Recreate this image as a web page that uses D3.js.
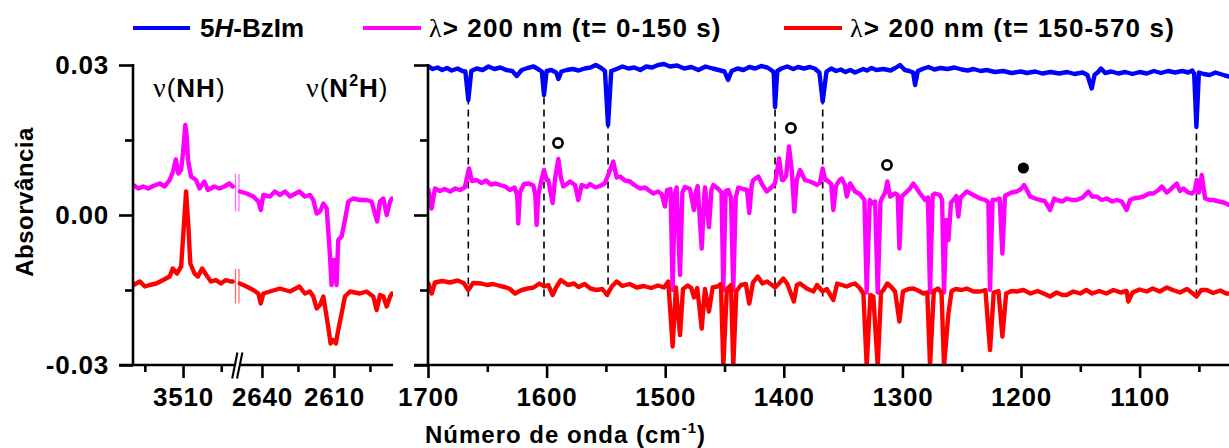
<!DOCTYPE html>
<html><head><meta charset="utf-8">
<script src="https://cdn.jsdelivr.net/npm/d3@7"></script>
<style>
body{margin:0;background:#fff;}
svg text{font-family:"Liberation Sans",Arial,sans-serif;font-weight:bold;fill:#000;}
</style></head><body>
<svg id="c" width="1229" height="448"></svg>
<script>
// ---------------- DATA ----------------
const seriesNames = ["5H-BzIm", "λ> 200 nm (t= 0-150 s)", "λ> 200 nm (t= 150-570 s)"];

// ν(NH) region (left part of left panel) [wavenumber, absorbance]
const nhMagenta = [[3523.0,0.0060],[3521.7,0.0053],[3520.4,0.0057],[3519.1,0.0053],[3517.8,0.0058],[3516.1,0.0063],[3514.8,0.0057],[3513.5,0.0070],[3512.6,0.0087],[3511.9,0.0111],[3511.2,0.0083],[3510.5,0.0090],[3510.0,0.0125],[3509.4,0.0180],[3509.0,0.0155],[3508.7,0.0110],[3507.9,0.0077],[3506.6,0.0070],[3505.7,0.0053],[3504.4,0.0067],[3503.5,0.0050],[3501.8,0.0057],[3500.5,0.0053],[3499.2,0.0057],[3497.9,0.0063],[3497.0,0.0057]];
const nhRed = [[3523.0,-0.0140],[3521.3,-0.0133],[3520.0,-0.0143],[3518.7,-0.0140],[3517.0,-0.0137],[3515.2,-0.0130],[3513.5,-0.0123],[3512.7,-0.0107],[3511.6,-0.0117],[3510.5,-0.0103],[3509.8,-0.0023],[3509.2,0.0047],[3508.6,-0.0023],[3508.1,-0.0097],[3507.0,-0.0117],[3506.1,-0.0123],[3505.0,-0.0107],[3503.9,-0.0120],[3502.7,-0.0133],[3501.4,-0.0130],[3500.1,-0.0137],[3498.8,-0.0130],[3497.5,-0.0133],[3497.0,-0.0133]];

// ν(N2H) region (right part of left panel)
const n2hMagenta = [[2649.2,0.0047],[2646.4,0.0043],[2643.6,0.0037],[2641.5,0.0027],[2640.5,0.0010],[2639.4,0.0040],[2636.7,0.0037],[2634.6,0.0047],[2632.5,0.0040],[2630.4,0.0047],[2628.3,0.0037],[2624.4,0.0047],[2622.1,0.0037],[2620.0,0.0040],[2618.6,0.0030],[2617.2,0.0003],[2615.8,0.0007],[2614.4,0.0023],[2613.0,0.0013],[2611.7,-0.0077],[2611.0,-0.0140],[2610.0,-0.0090],[2608.9,-0.0140],[2608.2,-0.0050],[2606.8,-0.0043],[2605.4,-0.0010],[2604.0,0.0027],[2602.0,0.0033],[2599.2,0.0030],[2596.4,0.0030],[2594.3,0.0027],[2592.9,0.0003],[2592.0,-0.0013],[2590.8,0.0027],[2589.4,0.0033],[2588.0,0.0000],[2586.6,0.0027],[2585.8,0.0033]];
const n2hRed = [[2649.2,-0.0137],[2646.4,-0.0143],[2643.6,-0.0150],[2641.5,-0.0157],[2640.5,-0.0177],[2639.4,-0.0157],[2636.7,-0.0153],[2634.6,-0.0150],[2632.5,-0.0147],[2630.4,-0.0150],[2628.3,-0.0153],[2624.4,-0.0143],[2622.1,-0.0157],[2620.0,-0.0153],[2618.6,-0.0163],[2617.2,-0.0187],[2615.8,-0.0180],[2614.4,-0.0163],[2612.4,-0.0223],[2611.4,-0.0257],[2610.3,-0.0250],[2609.2,-0.0257],[2608.2,-0.0230],[2606.8,-0.0197],[2605.4,-0.0163],[2603.3,-0.0153],[2599.2,-0.0157],[2596.4,-0.0153],[2593.6,-0.0163],[2592.2,-0.0190],[2590.8,-0.0160],[2589.4,-0.0163],[2588.0,-0.0183],[2586.6,-0.0163],[2585.8,-0.0157]];

// 1700-1000 cm-1 region (right panel)
const fpBlue = [[1699.7,0.0297],[1696,0.0292],[1692,0.0295],[1688,0.0290],[1684,0.0294],[1680,0.0289],[1675,0.0293],[1671,0.0288],[1668.5,0.0287],[1666,0.0230],[1663.5,0.0288],[1659,0.0293],[1654,0.0290],[1649,0.0297],[1644,0.0292],[1639,0.0295],[1634,0.0290],[1629,0.0288],[1625.2,0.0278],[1621,0.0290],[1616,0.0294],[1611,0.0297],[1606,0.0290],[1604,0.0287],[1602.2,0.0240],[1600,0.0288],[1596,0.0290],[1592,0.0285],[1590,0.0272],[1587.5,0.0287],[1583,0.0290],[1578,0.0292],[1573,0.0289],[1568,0.0293],[1563,0.0295],[1558.5,0.0300],[1554,0.0294],[1550.8,0.0288],[1548.2,0.0180],[1545.5,0.0288],[1541,0.0292],[1536,0.0297],[1531,0.0293],[1526,0.0295],[1521,0.0290],[1516,0.0297],[1511,0.0295],[1506,0.0300],[1501,0.0302],[1496,0.0297],[1490,0.0299],[1484,0.0293],[1478,0.0296],[1472,0.0290],[1466,0.0297],[1460,0.0293],[1455,0.0290],[1450,0.0287],[1447,0.0270],[1444,0.0288],[1439,0.0293],[1434,0.0290],[1429,0.0296],[1424,0.0293],[1419,0.0298],[1414,0.0295],[1410,0.0289],[1408.5,0.0285],[1407.4,0.0216],[1405.5,0.0288],[1402,0.0293],[1397,0.0297],[1392,0.0292],[1388,0.0296],[1383,0.0293],[1378,0.0296],[1374,0.0293],[1370,0.0285],[1367.2,0.0227],[1364,0.0287],[1360,0.0293],[1356,0.0288],[1352,0.0291],[1348,0.0286],[1344,0.0290],[1340,0.0285],[1337,0.0288],[1333,0.0292],[1330,0.0289],[1326,0.0294],[1322,0.0290],[1316,0.0292],[1310,0.0289],[1306,0.0294],[1302,0.0300],[1298,0.0290],[1294,0.0288],[1291,0.0285],[1289.3,0.0260],[1287,0.0288],[1282,0.0293],[1278,0.0296],[1273,0.0291],[1268,0.0294],[1262,0.0292],[1256,0.0295],[1250,0.0291],[1245,0.0289],[1240,0.0292],[1234,0.0288],[1229,0.0290],[1222,0.0286],[1215,0.0288],[1208,0.0284],[1200,0.0287],[1195,0.0284],[1188,0.0287],[1182,0.0283],[1175,0.0286],[1168,0.0283],[1161,0.0286],[1155,0.0282],[1148,0.0285],[1144,0.0280],[1140.4,0.0253],[1138,0.0280],[1135,0.0286],[1132.5,0.0293],[1129,0.0284],[1124,0.0287],[1118,0.0283],[1112,0.0286],[1106,0.0282],[1100,0.0286],[1094,0.0283],[1088,0.0288],[1082,0.0284],[1076,0.0288],[1070,0.0285],[1064,0.0288],[1059,0.0285],[1055.5,0.0289],[1054,0.0283],[1052.1,0.0176],[1050,0.0285],[1046,0.0282],[1041,0.0280],[1036,0.0285],[1032,0.0282],[1028,0.0279],[1024.6,0.0277]];

const fpMagenta = [[1699.7,0.0050],[1696.9,0.0013],[1694.1,0.0053],[1690,0.0048],[1686,0.0052],[1681.4,0.0047],[1677,0.0053],[1673,0.0050],[1669,0.0055],[1665.4,0.0093],[1663,0.0068],[1659,0.0070],[1655,0.0064],[1651,0.0069],[1647,0.0061],[1643,0.0063],[1639.3,0.0060],[1635,0.0057],[1630.9,0.0050],[1627,0.0055],[1624.8,0.0040],[1623.9,-0.0017],[1622.5,0.0045],[1619,0.0062],[1615,0.0063],[1611.2,0.0059],[1609.5,0.0040],[1608.4,-0.0020],[1607,0.0040],[1604.5,0.0068],[1602.2,0.0090],[1600,0.0070],[1598.6,0.0070],[1594.9,0.0024],[1592.9,0.0072],[1590.1,0.0112],[1588,0.0075],[1585.9,0.0057],[1583,0.0062],[1580.3,0.0067],[1576,0.0060],[1573.3,0.0030],[1570.4,0.0060],[1566,0.0056],[1563.4,0.0062],[1559,0.0055],[1555,0.0058],[1551,0.0063],[1547.1,0.0086],[1543.8,0.0107],[1540.9,0.0075],[1538.1,0.0077],[1534,0.0069],[1529.7,0.0067],[1526,0.0060],[1521.3,0.0053],[1517,0.0055],[1513,0.0048],[1510,0.0043],[1506,0.0047],[1503,0.0042],[1500.2,0.0017],[1498.5,0.0050],[1495.5,0.0052],[1493.7,-0.0150],[1492,0.0040],[1490.4,0.0055],[1487.5,-0.0120],[1485.5,0.0045],[1483.3,0.0056],[1479.1,0.0052],[1475.7,0.0010],[1474,0.0048],[1472.6,0.0058],[1469.2,-0.0067],[1467,0.0042],[1466.4,0.0055],[1463.1,-0.0024],[1461,0.0050],[1459.4,0.0060],[1455.2,0.0052],[1452.5,0.0045],[1451,-0.0150],[1449,0.0048],[1446.8,0.0050],[1444.5,0.0035],[1442.6,-0.0150],[1440.5,0.0035],[1438.4,0.0055],[1434.2,0.0052],[1431,0.0050],[1429.1,0.0004],[1427,0.0060],[1425.7,0.0070],[1421.5,0.0077],[1418,0.0060],[1414.4,0.0047],[1410.5,0.0055],[1407.4,0.0063],[1404,0.0113],[1401.5,0.0070],[1400.4,0.0070],[1398,0.0078],[1395.6,0.0137],[1393.3,0.0090],[1391.1,0.0007],[1389.1,0.0070],[1386.3,0.0090],[1382.1,0.0070],[1378,0.0067],[1374,0.0063],[1372.2,0.0060],[1369.5,0.0064],[1367.2,0.0093],[1365,0.0070],[1363.8,0.0070],[1360,0.0062],[1358.2,0.0010],[1356,0.0058],[1353,0.0070],[1351.2,0.0073],[1348.5,0.0060],[1346.9,0.0037],[1344.1,0.0063],[1339.9,0.0047],[1336,0.0042],[1334.3,0.0037],[1332,0.0030],[1330.1,-0.0155],[1327.5,0.0030],[1325.9,0.0023],[1323,0.0027],[1320.8,-0.0155],[1318.5,0.0025],[1317.4,0.0033],[1314.5,0.0045],[1312.7,0.0067],[1310.4,0.0037],[1306.2,0.0043],[1304,0.0040],[1302.5,-0.0067],[1300.6,0.0037],[1297,0.0045],[1293.6,0.0053],[1290.7,0.0063],[1287,0.0050],[1285.1,0.0043],[1280.9,0.0030],[1278.5,0.0035],[1276.7,-0.0155],[1274.5,0.0040],[1272.5,0.0043],[1268.3,0.0040],[1266.5,0.0030],[1264.9,-0.0155],[1263,-0.0010],[1261.2,-0.0050],[1259,0.0025],[1257,0.0030],[1254.5,0.0038],[1252.8,-0.0003],[1251,0.0035],[1250,0.0037],[1245.8,0.0047],[1240.2,0.0040],[1234.5,0.0033],[1230,0.0030],[1227.5,0.0025],[1226.1,-0.0150],[1224,0.0030],[1221.9,0.0030],[1218,0.0033],[1215.7,-0.0077],[1213.5,0.0038],[1212.1,0.0040],[1208,0.0045],[1203.6,0.0047],[1200,0.0052],[1197.4,0.0060],[1194.5,0.0048],[1192.4,0.0037],[1188,0.0033],[1184,0.0030],[1180,0.0028],[1175.5,0.0010],[1172,0.0033],[1169.9,0.0030],[1165,0.0027],[1161.5,0.0033],[1157,0.0030],[1153,0.0030],[1148,0.0035],[1143.2,0.0047],[1140,0.0037],[1136.2,0.0037],[1132,0.0030],[1127.7,0.0033],[1123,0.0027],[1119.3,0.0030],[1115,0.0027],[1111,0.0010],[1108,0.0030],[1105.2,0.0033],[1100,0.0035],[1096.8,0.0037],[1092,0.0043],[1088.4,0.0043],[1084,0.0050],[1081.3,0.0057],[1077,0.0045],[1074.3,0.0050],[1071,0.0058],[1068.7,0.0063],[1066,0.0048],[1063.1,0.0053],[1059,0.0045],[1056,0.0043],[1053.5,0.0048],[1051.8,0.0070],[1050,0.0045],[1047.6,0.0080],[1044.8,0.0033],[1041,0.0030],[1037.8,0.0030],[1033,0.0027],[1029,0.0025],[1024.6,0.0020]];

const fpRed = [[1699.7,-0.0137],[1696.9,-0.0157],[1694.1,-0.0135],[1688,-0.0132],[1681.4,-0.0135],[1675,-0.0131],[1670,-0.0136],[1666,-0.0150],[1662,-0.0136],[1655,-0.0137],[1650.5,-0.0140],[1645,-0.0138],[1639,-0.0142],[1634,-0.0145],[1630.9,-0.0148],[1626.6,-0.0157],[1621,-0.0150],[1616,-0.0147],[1611,-0.0145],[1606,-0.0137],[1602,-0.0143],[1598.6,-0.0140],[1594.9,-0.0160],[1592,-0.0145],[1588,-0.0130],[1582,-0.0140],[1577,-0.0137],[1573,-0.0144],[1568,-0.0138],[1563,-0.0147],[1558,-0.0150],[1553,-0.0148],[1549,-0.0160],[1545,-0.0143],[1541,-0.0133],[1536,-0.0142],[1530,-0.0138],[1524,-0.0145],[1518,-0.0142],[1512,-0.0146],[1506,-0.0141],[1501,-0.0145],[1497.4,-0.0133],[1493.7,-0.0263],[1491,-0.0145],[1487.5,-0.0240],[1485,-0.0148],[1481,-0.0141],[1478,-0.0146],[1475.7,-0.0165],[1473,-0.0146],[1469.2,-0.0227],[1466.5,-0.0148],[1463.1,-0.0193],[1460,-0.0145],[1456,-0.0143],[1453,-0.0138],[1451,-0.0302],[1448,-0.0148],[1444.5,-0.0140],[1442.6,-0.0302],[1440,-0.0152],[1436,-0.0140],[1432,-0.0138],[1429.1,-0.0177],[1426,-0.0135],[1422,-0.0123],[1418,-0.0137],[1414,-0.0133],[1410,-0.0140],[1407.4,-0.0145],[1404,-0.0137],[1400.4,-0.0127],[1397,-0.0138],[1391.5,-0.0173],[1389,-0.0140],[1386.3,-0.0137],[1380.7,-0.0147],[1375,-0.0153],[1372,-0.0140],[1367.2,-0.0153],[1363.8,-0.0148],[1358.2,-0.0170],[1355,-0.0137],[1351,-0.0140],[1346.9,-0.0143],[1343,-0.0139],[1339.9,-0.0137],[1336,-0.0146],[1332.9,-0.0157],[1330.1,-0.0302],[1327,-0.0160],[1324.5,-0.0163],[1320.8,-0.0302],[1318,-0.0155],[1316,-0.0150],[1312.7,-0.0137],[1309,-0.0145],[1306.2,-0.0153],[1302.5,-0.0213],[1299.5,-0.0153],[1295,-0.0148],[1290.7,-0.0147],[1286,-0.0152],[1282.3,-0.0157],[1279,-0.0155],[1276.7,-0.0302],[1273.5,-0.0152],[1270,-0.0147],[1267,-0.0155],[1264.9,-0.0302],[1261.2,-0.0197],[1258.5,-0.0152],[1255,-0.0148],[1250,-0.0150],[1245.8,-0.0147],[1240,-0.0153],[1234.5,-0.0153],[1230,-0.0150],[1226.1,-0.0270],[1223,-0.0155],[1219,-0.0152],[1215.7,-0.0243],[1212.5,-0.0157],[1208,-0.0152],[1203.6,-0.0153],[1198,-0.0150],[1192,-0.0157],[1186,-0.0152],[1180,-0.0158],[1175.5,-0.0163],[1170,-0.0155],[1165,-0.0160],[1161.5,-0.0160],[1156,-0.0153],[1150,-0.0157],[1145,-0.0150],[1140,-0.0157],[1134,-0.0152],[1128,-0.0157],[1122,-0.0150],[1116,-0.0155],[1111,-0.0152],[1109.5,-0.0173],[1106,-0.0155],[1100,-0.0149],[1094,-0.0153],[1089,-0.0147],[1083,-0.0153],[1077,-0.0145],[1072,-0.0150],[1066,-0.0155],[1060,-0.0148],[1055,-0.0157],[1052,-0.0163],[1048,-0.0150],[1043.4,-0.0150],[1038,-0.0156],[1032,-0.0151],[1027,-0.0157],[1024.6,-0.0157]];

// reference band positions (dashed lines) and markers
const bandLines = [1666, 1602.2, 1548.2, 1407.4, 1367.2, 1052.1];
const bandLineRange = [0.0235, -0.0164];
const openMarks = [[1590.4, 0.0144], [1394, 0.0174], [1313, 0.0100]];
const filledMarks = [[1198, 0.0094]];

// ticks
const yTicks = [-0.03, 0, 0.03];
const yTickLabels = ["-0.03", "0.00", "0.03"];
const yMinor = [-0.015, 0.015];
const nhMajor = [3510], nhMinor = [3520, 3500];
const n2hMajor = [2640, 2610], n2hMinor = [2625, 2595];
const fpMajor = [1700, 1600, 1500, 1400, 1300, 1200, 1100], fpMinor = [1650, 1550, 1450, 1350, 1250, 1150, 1050];

// ---------------- DRAWING ----------------
const svg = d3.select("#c");
const colors = ["#0000ff", "#ff00ff", "#ff0000"];
const y = d3.scaleLinear().domain([-0.03, 0.03]).range([365, 65]);
const xNH = d3.scaleLinear().domain([3523.1, 3496.4]).range([133, 235]);
const xN2H = d3.scaleLinear().domain([2650.4, 2585.8]).range([237, 392]);
const xFP = d3.scaleLinear().domain([1700, 1000]).range([428, 1258.2]);

const defs = svg.append("defs");
function clip(id, x0, x1) {
  defs.append("clipPath").attr("id", id).append("rect")
    .attr("x", x0).attr("y", 0).attr("width", x1 - x0).attr("height", 366);
}
clip("cNH", 133, 235); clip("cN2H", 237, 393); clip("cFP", 429, 1229);

// dashed band lines
svg.append("g").selectAll("line").data(bandLines).join("line")
  .attr("x1", d => xFP(d)).attr("x2", d => xFP(d))
  .attr("y1", y(bandLineRange[0])).attr("y2", y(bandLineRange[1]))
  .attr("stroke", "#000").attr("stroke-width", 1.6).attr("stroke-dasharray", "7,5");

function trace(data, xs, color, clipId) {
  svg.append("path").datum(data)
    .attr("clip-path", `url(#${clipId})`)
    .attr("d", d3.line().x(d => xs(d[0])).y(d => y(d[1])))
    .attr("fill", "none").attr("stroke", color).attr("stroke-width", 4.4)
    .attr("stroke-linejoin", "round").attr("stroke-linecap", "round");
}
trace(fpBlue, xFP, colors[0], "cFP");
trace(fpMagenta, xFP, colors[1], "cFP");
trace(fpRed, xFP, colors[2], "cFP");
trace(nhMagenta, xNH, colors[1], "cNH");
trace(nhRed, xNH, colors[2], "cNH");
trace(n2hMagenta, xN2H, colors[1], "cN2H");
trace(n2hRed, xN2H, colors[2], "cN2H");

// break stubs on data
[[nhMagenta, n2hMagenta, colors[1]], [nhRed, n2hRed, colors[2]]].forEach(([a, b, c]) => {
  const v1 = a[a.length - 1][1], v2 = b[0][1];
  [235.5, 239].forEach(xp => {
    svg.append("line").attr("x1", xp).attr("x2", xp)
      .attr("y1", y(Math.max(v1, v2) + 0.0025)).attr("y2", y(Math.min(v1, v2) - 0.004))
      .attr("stroke", c).attr("stroke-width", 1.2).attr("opacity", 0.6);
  });
});

// markers
svg.append("g").selectAll("circle").data(openMarks).join("circle")
  .attr("cx", d => xFP(d[0])).attr("cy", d => y(d[1])).attr("r", 4.6)
  .attr("fill", "#fff").attr("stroke", "#000").attr("stroke-width", 2.7);
svg.append("g").selectAll("circle").data(filledMarks).join("circle")
  .attr("cx", d => xFP(d[0])).attr("cy", d => y(d[1])).attr("r", 5.6)
  .attr("fill", "#000");

// axes
const axW = 2.6;
function styleAxis(g) {
  g.select(".domain").remove();
  g.selectAll(".tick line").attr("stroke", "#000").attr("stroke-width", axW);
  g.selectAll(".tick text").style("font-size", "26px").style("font-weight", "bold")
    .style("letter-spacing", "0.8px").style("font-family", '"Liberation Sans", Arial, sans-serif');
}
const fmtY = d => yTickLabels[yTicks.indexOf(d)];
// left y axis
svg.append("g").attr("transform", "translate(133,0)")
  .call(d3.axisLeft(y).tickValues(yTicks).tickSize(14).tickPadding(10).tickFormat(fmtY)).call(styleAxis);
svg.append("g").attr("transform", "translate(133,0)")
  .call(d3.axisLeft(y).tickValues(yMinor).tickSize(8).tickFormat("")).call(styleAxis);
// right y axis
svg.append("g").attr("transform", "translate(428,0)")
  .call(d3.axisLeft(y).tickValues(yTicks).tickSize(14).tickFormat("")).call(styleAxis);
svg.append("g").attr("transform", "translate(428,0)")
  .call(d3.axisLeft(y).tickValues(yMinor).tickSize(8).tickFormat("")).call(styleAxis);
// x axes
function xAxis(scale, major, minor) {
  svg.append("g").attr("transform", "translate(0,365)")
    .call(d3.axisBottom(scale).tickValues(major).tickSize(13).tickPadding(10).tickFormat(d3.format("d"))).call(styleAxis);
  svg.append("g").attr("transform", "translate(0,365)")
    .call(d3.axisBottom(scale).tickValues(minor).tickSize(7).tickFormat("")).call(styleAxis);
}
xAxis(xNH, nhMajor, nhMinor);
xAxis(xN2H, n2hMajor, n2hMinor);
xAxis(xFP, fpMajor, fpMinor);

// axis lines
const al = svg.append("g").attr("stroke", "#000").attr("stroke-width", axW).attr("fill", "none");
al.append("line").attr("x1", 133).attr("x2", 133).attr("y1", 64).attr("y2", 366);
al.append("line").attr("x1", 428).attr("x2", 428).attr("y1", 64).attr("y2", 366);
al.append("line").attr("x1", 119).attr("x2", 393).attr("y1", 365).attr("y2", 365);
al.append("line").attr("x1", 414).attr("x2", 1229).attr("y1", 365).attr("y2", 365);
// axis break "//"
svg.append("polygon").attr("points", "233.5,378 237.8,378 243,352.5 238.7,352.5").attr("fill", "#fff");
const br = svg.append("g").attr("stroke", "#000").attr("stroke-width", 2.1);
br.append("line").attr("x1", 232.2).attr("y1", 378.5).attr("x2", 237.4).attr("y2", 352.5);
br.append("line").attr("x1", 237.0).attr("y1", 378.5).attr("x2", 242.4).attr("y2", 352.5);

// legend
const legX = [[133, 190, 200, 0], [363, 421, 429, 1.1], [784, 842, 850, 1.15]];
legX.forEach((p, i) => {
  svg.append("line").attr("x1", p[0]).attr("x2", p[1]).attr("y1", 28).attr("y2", 28)
    .attr("stroke", colors[i]).attr("stroke-width", 4);
  const t = svg.append("text").attr("x", p[2]).attr("y", 37).style("font-size", "26px")
    .style("letter-spacing", p[3] + "px");
  const name = seriesNames[i];
  if (i === 0) {
    t.append("tspan").text(name.slice(0, 1));
    t.append("tspan").style("font-style", "italic").text(name.slice(1, 2));
    t.append("tspan").text(name.slice(2));
  } else {
    t.append("tspan").style("font-family", '"Liberation Serif", serif').style("font-weight", "normal").text(name.slice(0, 1));
    t.append("tspan").text(name.slice(1));
  }
});

// band labels
function nuLabel(x, parts) {
  const t = svg.append("text").attr("x", x).attr("y", 97).style("font-size", "26px").style("letter-spacing", "1px");
  t.append("tspan").style("font-family", '"Liberation Serif", serif').style("font-weight", "normal").style("font-size", "28px").text("ν");
  t.append("tspan").style("font-weight", "normal").text("(");
  parts.forEach(p => {
    const s = t.append("tspan").text(p.t);
    if (p.sup) s.style("font-size", "16px").attr("dy", -11);
    if (p.down) s.attr("dy", 11);
  });
  t.append("tspan").style("font-weight", "normal").text(")");
}
nuLabel(153, [{t: "NH"}]);
nuLabel(306, [{t: "N"}, {t: "2", sup: true}, {t: "H", down: true}]);

// axis titles
const xt = svg.append("text").attr("x", 425).attr("y", 443).style("font-size", "24px").style("letter-spacing", "1px");
xt.append("tspan").text("Número de onda (cm");
xt.append("tspan").style("font-size", "15px").attr("dy", -10).text("-1");
xt.append("tspan").attr("dy", 10).text(")");
svg.append("text").attr("transform", "translate(33,202) rotate(-90)")
  .attr("text-anchor", "middle").style("font-size", "24px").style("letter-spacing", "0.5px").text("Absorvância");
</script>
</body></html>
